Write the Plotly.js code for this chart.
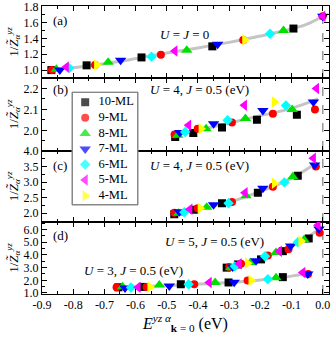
<!DOCTYPE html>
<html>
<head>
<meta charset="utf-8">
<script src="https://cdn.plot.ly/plotly-3.0.1.min.js"></script>
<style>
  body { margin: 0; background: #fff; }
  #chart { width: 332px; height: 340px; }
</style>
</head>
<body>
<div id="chart"></div>
<script>
// layer counts, legend names, marker styles
var layers = [10, 9, 8, 7, 6, 5, 4];
var names = ["10-ML", "9-ML", "8-ML", "7-ML", "6-ML", "5-ML", "4-ML"];
var colors = ["#000000", "#ff0000", "#00e000", "#0000ff", "#00ffff", "#ff00ff", "#ffff00"];
var symbols = ["square", "circle", "triangle-up", "triangle-down", "diamond", "triangle-left", "triangle-right"];

// shared energy axis tick labels
var xTicks = [-0.9, -0.8, -0.7, -0.6, -0.5, -0.4, -0.3, -0.2, -0.1, 0.0];
var xTickLabels = ["-0.9", "-0.8", "-0.7", "-0.6", "-0.5", "-0.4", "-0.3", "-0.2", "-0.1", "0.0"];

// panel (a): U = J = 0
var aE  = [-0.870, -0.757, -0.581, -0.354, -0.094,  -0.868, -0.730, -0.519, -0.255, 0.0,  -0.854, -0.688, -0.436, -0.126,  -0.843, -0.648, -0.337, 0.0,  -0.813, -0.549, -0.169,  -0.822, -0.474, 0.0,  -0.725, -0.250];
var aZ  = [1.00, 1.06, 1.16, 1.30, 1.525,  1.00, 1.065, 1.195, 1.38, 1.68,  1.01, 1.10, 1.25, 1.50,  1.00, 1.125, 1.325, 1.68,  1.025, 1.17, 1.46,  1.04, 1.24, 1.68,  1.065, 1.38];
var aML = [10, 10, 10, 10, 10,  9, 9, 9, 9, 9,  8, 8, 8, 8,  7, 7, 7, 7,  6, 6, 6,  5, 5, 5,  4, 4];

// panel (b): U = 4, J = 0.5
var bE  = [-0.473, -0.415, -0.323, -0.211, -0.083,  -0.475, -0.401, -0.291, -0.160, -0.025,  -0.465, -0.374, -0.248, -0.098,  -0.458, -0.350, -0.192, -0.030,  -0.441, -0.305, -0.118,  -0.430, -0.251, -0.020,  -0.390, -0.155];
var bZ  = [1.968, 1.987, 2.013, 2.051, 2.075,  1.980, 2.008, 2.037, 2.079, 2.100,  1.976, 2.008, 2.056, 2.100,  1.990, 2.032, 2.095, 2.135,  1.992, 2.048, 2.119,  2.024, 2.120, 2.200,  2.008, 2.135];
var bML = [10, 10, 10, 10, 10,  9, 9, 9, 9, 9,  8, 8, 8, 8,  7, 7, 7, 7,  6, 6, 6,  5, 5, 5,  4, 4];

// panel (c): U = 4, J = 0.5
var cE  = [-0.476, -0.412, -0.323, -0.208, -0.080,  -0.476, -0.401, -0.291, -0.160, -0.022,  -0.462, -0.372, -0.246, -0.096,  -0.460, -0.350, -0.192, -0.026,  -0.444, -0.302, -0.123,  -0.426, -0.249, -0.030,  -0.393, -0.155];
var cZ  = [1.97, 2.11, 2.32, 2.66, 3.20,  2.02, 2.16, 2.36, 2.85, 3.50,  2.00, 2.19, 2.56, 3.17,  2.05, 2.27, 2.80, 3.55,  2.03, 2.32, 2.99,  2.13, 2.66, 3.76,  2.16, 2.96];
var cML = [10, 10, 10, 10, 10,  9, 9, 9, 9, 9,  8, 8, 8, 8,  7, 7, 7, 7,  6, 6, 6,  5, 5, 5,  4, 4];

// panel (d), lower branch: U = 3, J = 0.5
var dLowE  = [-0.655, -0.578, -0.455, -0.302, -0.128,  -0.661, -0.565, -0.412, -0.241, -0.047,  -0.642, -0.524, -0.345, -0.150,  -0.634, -0.492, -0.284, -0.048,  -0.615, -0.430, -0.176,  -0.592, -0.364, -0.064,  -0.554, -0.230];
var dLowZ  = [1.45, 1.48, 1.69, 1.83, 2.25,  1.45, 1.48, 1.69, 1.98, 2.50,  1.50, 1.63, 1.83, 2.21,  1.40, 1.56, 1.85, 2.50,  1.43, 1.69, 2.09,  1.46, 1.82, 2.61,  1.48, 1.98];
var dLowML = [10, 10, 10, 10, 10,  9, 9, 9, 9, 9,  8, 8, 8, 8,  7, 7, 7, 7,  6, 6, 6,  5, 5, 5,  4, 4];

// panel (d), upper branch: U = 5, J = 0.5
var dHighE  = [-0.308, -0.272, -0.198, -0.128, -0.045,  -0.300, -0.262, -0.176, -0.110, -0.010,  -0.295, -0.232, -0.150, -0.060,  -0.289, -0.214, -0.103, -0.012,  -0.282, -0.185, -0.080,  -0.268, -0.139, -0.015,  -0.241, -0.070];
var dHighZ  = [3.00, 3.25, 3.65, 4.30, 5.30,  3.05, 3.30, 3.95, 4.45, 5.75,  3.00, 3.40, 4.20, 5.20,  3.05, 3.55, 4.70, 6.05,  3.10, 3.90, 5.00,  3.30, 4.30, 6.35,  3.35, 5.10];
var dHighML = [10, 10, 10, 10, 10,  9, 9, 9, 9, 9,  8, 8, 8, 8,  7, 7, 7, 7,  6, 6, 6,  5, 5, 5,  4, 4];

// grey guide curves
var aCurveE = [-0.88, -0.8, -0.7, -0.6, -0.5, -0.4, -0.3, -0.2, -0.1, -0.05, 0.0];
var aCurveZ = [1.0, 1.03, 1.08, 1.145, 1.215, 1.28, 1.35, 1.43, 1.52, 1.58, 1.68];
var bCurveE = [-0.48, -0.4, -0.3, -0.2, -0.1, -0.015];
var bCurveZ = [1.975, 2.0, 2.035, 2.07, 2.105, 2.15];
var cCurveE = [-0.48, -0.4, -0.3, -0.2, -0.1, -0.02];
var cCurveZ = [1.98, 2.13, 2.35, 2.7, 3.12, 3.62];
var dLowCurveE = [-0.67, -0.6, -0.5, -0.4, -0.3, -0.2, -0.1, -0.05];
var dLowCurveZ = [1.45, 1.48, 1.58, 1.7, 1.83, 2.03, 2.33, 2.55];
var dHighCurveE = [-0.31, -0.27, -0.24, -0.2, -0.17, -0.14, -0.1, -0.06, -0.01];
var dHighCurveZ = [3.0, 3.25, 3.4, 3.65, 3.95, 4.3, 4.7, 5.2, 6.1];

var font = "Liberation Serif, Times New Roman, serif";
var W = 332, H = 340;
var M = { l: 42, r: 3, t: 6, b: 46 };
var traces = [];

// where the legend box sits (paper fractions)
var legX = [0.1045, 0.3345];
var legY = [0.309, 0.701];

function markerSize(sym) {
    return sym.indexOf("triangle") === 0 ? 10 : 8;
}

function addCurve(xs, ys, xa, ya) {
    traces.push({
        type: "scatter", mode: "lines", x: xs, y: ys,
        xaxis: xa, yaxis: ya, hoverinfo: "skip",
        line: { color: "#c4c4c4", width: 3, shape: "spline" }
    });
}

function addPoints(es, zs, mls, xa, ya) {
    layers.forEach(function (n, i) {
        var xs = [], ys = [];
        for (var k = 0; k < mls.length; k++) {
            if (mls[k] === n) { xs.push(es[k]); ys.push(zs[k]); }
        }
        traces.push({
            type: "scatter", mode: "markers", x: xs, y: ys,
            xaxis: xa, yaxis: ya, name: names[i],
            marker: { color: colors[i], symbol: symbols[i], size: markerSize(symbols[i]), line: { width: 0 } }
        });
    });
}

addCurve(aCurveE, aCurveZ, "x", "y");
addCurve(bCurveE, bCurveZ, "x2", "y2");
addCurve(cCurveE, cCurveZ, "x3", "y3");
addCurve(dLowCurveE, dLowCurveZ, "x4", "y4");
addCurve(dHighCurveE, dHighCurveZ, "x4", "y4");
addPoints(aE, aZ, aML, "x", "y");
addPoints(bE, bZ, bML, "x2", "y2");
addPoints(cE, cZ, cML, "x3", "y3");
addPoints(dLowE, dLowZ, dLowML, "x4", "y4");
addPoints(dHighE, dHighZ, dHighML, "x4", "y4");

// compact legend: one row per layer count, on its own small subplot
var rows = layers.map(function (n, i) { return i; });
traces.push({
    type: "scatter", mode: "markers", xaxis: "x5", yaxis: "y5",
    x: rows.map(function () { return 0.2; }), y: rows, hoverinfo: "skip",
    marker: { color: colors, symbol: symbols, size: symbols.map(markerSize), line: { width: 0 } }
});
traces.push({
    type: "scatter", mode: "text", xaxis: "x5", yaxis: "y5",
    x: rows.map(function () { return 0.4; }), y: rows,
    text: names, textposition: "middle right", cliponaxis: false, hoverinfo: "skip",
    textfont: { family: font, size: 12.5, color: "#000" }
});

function xAxis(anchor, labels) {
    var ax = {
        anchor: anchor, range: [-0.9, 0.02], tickmode: "array",
        tickvals: xTicks, ticktext: xTickLabels,
        ticks: "inside", ticklen: 5, tickcolor: "#000", showline: true, linecolor: "#000",
        linewidth: 1, mirror: "ticks", showgrid: false, zeroline: false,
        showticklabels: labels, ticklabeloverflow: "allow",
        tickfont: { family: font, size: 12, color: "#000" },
        minor: { tickmode: "linear", tick0: -0.95, dtick: 0.1, ticks: "inside", ticklen: 3, tickcolor: "#000" }
    };
    if (labels) {
        ax.title = {
            text: "<i>E</i><sup><i>yz α</i></sup><sub><b>k</b> = 0</sub> (eV)",
            font: { family: font, size: 16, color: "#000" }, standoff: 6
        };
    }
    return ax;
}

function yAxis(anchor, domain, range, dtick, minorStep) {
    return {
        anchor: anchor, domain: domain, range: range, dtick: dtick, tick0: 0,
        ticks: "inside", ticklen: 5, tickcolor: "#000", showline: true, linecolor: "#000",
        linewidth: 1, mirror: "ticks", showgrid: false, zeroline: false, tickformat: ".1f",
        ticklabeloverflow: "allow",
        tickfont: { family: font, size: 12, color: "#000" },
        minor: { dtick: minorStep, ticks: "inside", ticklen: 3, tickcolor: "#000" },
        title: {
            text: "1/<i>Z̃</i><sub><i>α</i></sub><sup><i>yz</i></sup>",
            font: { family: font, size: 13, color: "#000" }, standoff: 2
        }
    };
}

function boxAxis(anchor, domain, range) {
    return {
        anchor: anchor, domain: domain, range: range, fixedrange: true,
        showline: false, ticks: "", showticklabels: false, showgrid: false, zeroline: false
    };
}

function note(text, x, y) {
    return {
        text: text, x: x, y: y, xref: "paper", yref: "paper", showarrow: false,
        xanchor: "left", yanchor: "middle", font: { family: font, size: 13, color: "#000" }
    };
}

var plotW = W - M.l - M.r, plotH = H - M.t - M.b;
var annotations = [
    note("(a)", 0.03, 0.95),
    note("<i>U</i> = <i>J</i> = 0", 0.405, 0.9),
    note("(b)", 0.03, 0.71),
    note("<i>U</i> = 4, <i>J</i> = 0.5 (eV)", 0.37, 0.71),
    note("(c)", 0.03, 0.445),
    note("<i>U</i> = 4, <i>J</i> = 0.5 (eV)", 0.37, 0.445),
    note("(d)", 0.03, 0.203),
    note("<i>U</i> = 5, <i>J</i> = 0.5 (eV)", 0.42, 0.182),
    note("<i>U</i> = 3, <i>J</i> = 0.5 (eV)", 0.14, 0.08),
    {
        // grey frame round the legend rows
        text: " ", xref: "paper", yref: "paper", showarrow: false,
        x: (legX[0] + legX[1]) / 2, y: (legY[0] + legY[1]) / 2,
        xanchor: "center", yanchor: "middle",
        width: Math.round((legX[1] - legX[0]) * plotW) - 2,
        height: Math.round((legY[1] - legY[0]) * plotH) - 2,
        borderpad: 0, borderwidth: 1, bordercolor: "#888", bgcolor: "rgba(0,0,0,0)",
        font: { family: font, size: 10, color: "#000" }
    }
];

var layout = {
    width: W, height: H,
    margin: M,
    paper_bgcolor: "#fff", plot_bgcolor: "#fff",
    font: { family: font, color: "#000" },
    showlegend: false,
    xaxis: xAxis("y", false),
    xaxis2: xAxis("y2", false),
    xaxis3: xAxis("y3", false),
    xaxis4: xAxis("y4", true),
    yaxis: yAxis("x", [0.75, 1], [0.9, 1.81], 0.2, 0.1),
    yaxis2: yAxis("x2", [0.497, 0.75], [1.902, 2.25], 0.1, 0.05),
    yaxis3: yAxis("x3", [0.25, 0.497], [1.72, 4.0], 0.5, 0.25),
    yaxis4: yAxis("x4", [0, 0.25], [0.92, 6.6], 1.0, 0.5),
    xaxis5: boxAxis("y5", legX, [0, 1]),
    yaxis5: boxAxis("x5", legY, [6.6, -0.65]),
    shapes: [{
        type: "line", xref: "x", yref: "paper", x0: 0, x1: 0, y0: 0, y1: 1,
        line: { color: "#999", width: 1.5, dash: "dash" }, layer: "below"
    }, {
        type: "rect", xref: "paper", yref: "paper",
        x0: legX[0], x1: legX[1], y0: legY[0], y1: legY[1],
        line: { color: "#888", width: 1 }, layer: "above"
    }],
    annotations: annotations
};

Plotly.newPlot("chart", traces, layout, { displayModeBar: false, staticPlot: true });
</script>
</body>
</html>
